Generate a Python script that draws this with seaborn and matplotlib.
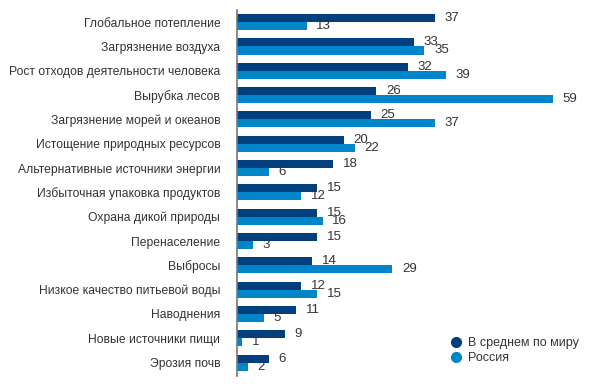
import matplotlib
matplotlib.use("Agg")
import matplotlib.pyplot as plt
from matplotlib.lines import Line2D
import seaborn as sns
import pandas as pd

categories = [
    "Глобальное потепление",
    "Загрязнение воздуха",
    "Рост отходов деятельности человека",
    "Вырубка лесов",
    "Загрязнение морей и океанов",
    "Истощение природных ресурсов",
    "Альтернативные источники энергии",
    "Избыточная упаковка продуктов",
    "Охрана дикой природы",
    "Перенаселение",
    "Выбросы",
    "Низкое качество питьевой воды",
    "Наводнения",
    "Новые источники пищи",
    "Эрозия почв",
]
world = [37, 33, 32, 26, 25, 20, 18, 15, 15, 15, 14, 12, 11, 9, 6]
russia = [13, 35, 39, 59, 37, 22, 6, 12, 16, 3, 29, 15, 5, 1, 2]
series_names = ["В среднем по миру", "Россия"]
colors = ["#023f7e", "#0085c8"]

df = pd.DataFrame({
    "cat": categories * 2,
    "val": world + russia,
    "series": [series_names[0]] * len(categories) + [series_names[1]] * len(categories),
})

sns.set_theme(style="white")
plt.rcParams["font.family"] = ["Liberation Sans", "DejaVu Sans"]

fig = plt.figure(figsize=(5.94, 3.84), dpi=100)
W, H = 594, 384
ax = fig.add_axes([237 / W, 1 - 376 / H, (587 - 237) / W, (376 - 10) / H])

sns.barplot(data=df, y="cat", x="val", hue="series", orient="h",
            palette=colors, width=0.66, ax=ax, legend=False,
            saturation=1, errorbar=None, linewidth=0)

ax.set_xlim(0, 350 / 5.35)
ax.set_ylim(14.55, -0.5)
ax.set_xlabel("")
ax.set_ylabel("")
ax.set_xticks([])
ax.tick_params(axis="y", length=0, pad=12, labelsize=8.7, labelcolor="#333333")

for s in ["top", "right", "bottom"]:
    ax.spines[s].set_visible(False)
ax.spines["left"].set_color("#777777")
ax.spines["left"].set_linewidth(1.2)

for cont in ax.containers:
    labels = [f"{int(b.get_width())}" for b in cont]
    ax.bar_label(cont, labels=labels, padding=7, fontsize=9.5, color="#333333")

handles = [Line2D([0], [0], marker="o", linestyle="", markersize=7,
                  markerfacecolor=c, markeredgecolor=c) for c in colors]
fig.legend(handles, series_names, loc="upper left",
           bbox_to_anchor=(449 / W, 1 - 337 / H), frameon=False,
           fontsize=9, handletextpad=0.35, labelspacing=0.25,
           borderaxespad=0, borderpad=0, handlelength=1.2,
           labelcolor="#333333")

fig.savefig("out.png", dpi=100)
